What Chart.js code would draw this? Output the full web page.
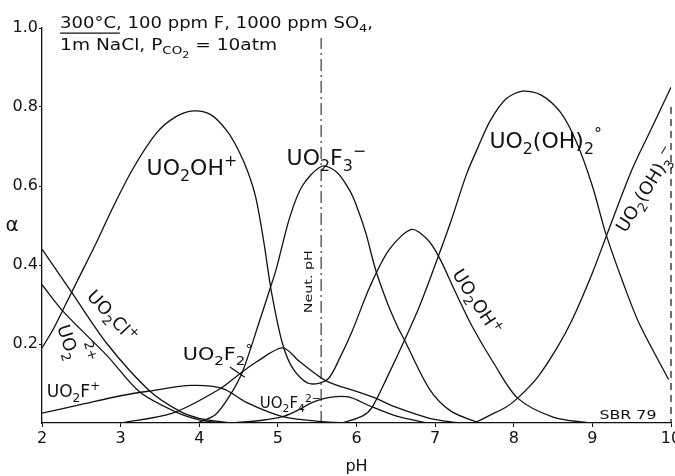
<!DOCTYPE html>
<html>
<head>
<meta charset="utf-8">
<script src="https://cdn.jsdelivr.net/npm/chart.js@4.4.0/dist/chart.umd.min.js"></script>
<style>
  html, body { margin: 0; padding: 0; background: #fff; }
</style>
</head>
<body>
<canvas id="chart" width="675" height="476"></canvas>
<script>
// uranyl species distribution vs pH, 300 C

const xTicks = [2, 3, 4, 5, 6, 7, 8, 9, 10];
const yTicks = [0.2, 0.4, 0.6, 0.8, 1.0];
const neutralPH = 5.55;

const phUO2OH = [2.0, 2.15, 2.3, 2.45, 2.7, 2.9, 3.16, 3.46, 3.7, 3.93, 4.15, 4.35, 4.5, 4.62, 4.72, 4.82, 4.92, 5.06, 5.2, 5.4, 5.63, 5.8, 5.95, 6.17, 6.42, 6.7, 6.9, 7.05, 7.25, 7.47, 7.75, 8.05, 8.5, 8.96];
const aUO2OH = [0.19, 0.24, 0.30, 0.36, 0.46, 0.545, 0.645, 0.735, 0.775, 0.79, 0.78, 0.74, 0.69, 0.635, 0.57, 0.46, 0.33, 0.20, 0.135, 0.10, 0.11, 0.17, 0.235, 0.345, 0.44, 0.49, 0.465, 0.42, 0.335, 0.245, 0.15, 0.063, 0.015, 0];

const phUO2F3 = [3.97, 4.2, 4.39, 4.55, 4.77, 4.9, 4.98, 5.15, 5.31, 5.56, 5.75, 5.91, 6.0, 6.12, 6.24, 6.4, 6.52, 6.61, 6.93, 7.2, 7.56];
const aUO2F3 = [0, 0.02, 0.07, 0.13, 0.26, 0.34, 0.39, 0.52, 0.60, 0.65, 0.635, 0.59, 0.55, 0.48, 0.39, 0.30, 0.245, 0.21, 0.085, 0.03, 0];

const phUO2OH2 = [5.82, 6.08, 6.2, 6.4, 6.6, 6.8, 7.0, 7.2, 7.4, 7.55, 7.7, 7.9, 8.11, 8.35, 8.6, 8.8, 9.0, 9.17, 9.4, 9.6, 9.97];
const aUO2OH2 = [0, 0.018, 0.04, 0.12, 0.205, 0.295, 0.40, 0.51, 0.63, 0.70, 0.765, 0.82, 0.84, 0.83, 0.785, 0.71, 0.60, 0.48, 0.35, 0.25, 0.11];

const phUO2OH3 = [7.5, 7.7, 7.9, 8.05, 8.3, 8.55, 8.74, 9.0, 9.19, 9.5, 9.75, 10];
const aUO2OH3 = [0, 0.02, 0.04, 0.063, 0.115, 0.19, 0.26, 0.38, 0.48, 0.64, 0.745, 0.85];

const phUO2F2 = [3.0, 3.66, 4.26, 4.55, 4.73, 5.06, 5.28, 5.62, 6.0, 6.23, 6.5, 6.93, 7.3];
const aUO2F2 = [0, 0.025, 0.086, 0.13, 0.155, 0.19, 0.155, 0.106, 0.08, 0.064, 0.04, 0.012, 0];

const phUO2F = [2.0, 2.5, 3.0, 3.37, 3.9, 4.3, 4.6, 5.06, 5.6, 6.0];
const aUO2F = [0.025, 0.047, 0.069, 0.081, 0.095, 0.087, 0.052, 0.016, 0.003, 0];

const phUO2Cl = [2.0, 2.38, 2.83, 3.37, 3.75, 4.0, 4.4];
const aUO2Cl = [0.44, 0.33, 0.20, 0.081, 0.03, 0.012, 0];

const phUO2 = [2.0, 2.28, 2.83, 3.24, 3.7, 4.0, 4.3];
const aUO2 = [0.35, 0.28, 0.17, 0.079, 0.028, 0.008, 0];

const phUO2F4 = [4.4, 4.8, 5.06, 5.25, 5.44, 5.66, 5.9, 6.17, 6.5, 6.9];
const aUO2F4 = [0, 0.007, 0.016, 0.032, 0.052, 0.065, 0.066, 0.043, 0.018, 0];

const FONT = "'DejaVu Sans', sans-serif";
const INK = "#111";

function pts(ph, a) {
  return ph.map((x, i) => ({ x: x, y: a[i] }));
}

// text runs: n normal, s subscript, p superscript, ss second-level subscript
const runs = {
  n: { k: 1, dy: 0 },
  s: { k: 0.72, dy: 0.28 },
  p: { k: 0.72, dy: -0.42 },
  ss: { k: 0.6, dy: 0.5 }
};

function drawChem(ctx, parts, x, y, size, angle, width) {
  ctx.save();
  ctx.translate(x, y);
  ctx.rotate((angle || 0) * Math.PI / 180);
  let total = 0;
  parts.forEach(p => {
    ctx.font = (size * runs[p[1]].k) + "px " + FONT;
    total += ctx.measureText(p[0]).width;
  });
  if (width) ctx.scale(width / total, 1);
  ctx.textAlign = "left";
  ctx.textBaseline = "alphabetic";
  ctx.fillStyle = INK;
  let cx = 0;
  parts.forEach(p => {
    const r = runs[p[1]];
    ctx.font = (size * r.k) + "px " + FONT;
    ctx.fillText(p[0], cx, r.dy * size);
    cx += ctx.measureText(p[0]).width;
  });
  ctx.restore();
}

const notes = [
  { parts: [["300°C, 100 ppm F, 1000 ppm SO", "n"], ["4", "s"], [",", "n"]], ph: 2.23, a: 1.0, size: 15, width: 313 },
  { parts: [["1m NaCl, P", "n"], ["CO", "s"], ["2", "ss"], [" = 10atm", "n"]], ph: 2.23, a: 0.944, size: 15, width: 217 },
  { parts: [["UO", "n"], ["2", "s"], ["OH", "n"], ["+", "p"]], ph: 3.33, a: 0.628, size: 22 },
  { parts: [["UO", "n"], ["2", "s"], ["F", "n"], ["3", "s"], ["−", "p"]], ph: 5.11, a: 0.653, size: 22 },
  { parts: [["UO", "n"], ["2", "s"], ["(OH)", "n"], ["2", "s"], ["°", "p"]], ph: 7.69, a: 0.696, size: 22 },
  { parts: [["UO", "n"], ["2", "s"], ["(OH)", "n"], ["3", "s"], ["−", "p"]], ph: 9.42, a: 0.48, size: 18, angle: -58 },
  { parts: [["UO", "n"], ["2", "s"], ["OH", "n"], ["+", "p"]], ph: 7.21, a: 0.377, size: 18, angle: 57 },
  { parts: [["UO", "n"], ["2", "s"], ["Cl", "n"], ["+", "p"]], ph: 2.56, a: 0.319, size: 18, angle: 47 },
  { parts: [["UO", "n"], ["2", "s"]], ph: 2.19, a: 0.243, size: 18, angle: 72 },
  { parts: [["2+", "n"]], ph: 2.53, a: 0.203, size: 13, angle: 72 },
  { parts: [["UO", "n"], ["2", "s"], ["F", "n"], ["+", "p"]], ph: 2.06, a: 0.066, size: 17 },
  { parts: [["UO", "n"], ["2", "s"], ["F", "n"], ["2", "s"], ["°", "p"]], ph: 3.79, a: 0.159, size: 18, width: 70 },
  { parts: [["UO", "n"], ["2", "s"], ["F", "n"], ["4", "s"], ["2−", "p"]], ph: 4.77, a: 0.038, size: 15 },
  { parts: [["SBR 79", "n"]], ph: 9.09, a: 0.01, size: 13, width: 57 },
  { parts: [["Neut. pH", "n"]], ph: 5.44, a: 0.278, size: 11, angle: -90, width: 63 }
];

const notesPlugin = {
  id: "notes",
  afterDatasetsDraw(chart) {
    const ctx = chart.ctx;
    const xs = chart.scales.x;
    const ys = chart.scales.y;
    const area = chart.chartArea;

    notes.forEach(n => {
      drawChem(ctx, n.parts, xs.getPixelForValue(n.ph), ys.getPixelForValue(n.a), n.size, n.angle, n.width);
    });

    ctx.save();
    ctx.strokeStyle = INK;
    ctx.lineWidth = 1.2;
    // underline under 300°C
    ctx.beginPath();
    ctx.moveTo(xs.getPixelForValue(2.23), ys.getPixelForValue(0.987));
    ctx.lineTo(xs.getPixelForValue(2.99), ys.getPixelForValue(0.987));
    // leader for UO2F2
    ctx.moveTo(xs.getPixelForValue(4.39), ys.getPixelForValue(0.142));
    ctx.lineTo(xs.getPixelForValue(4.58), ys.getPixelForValue(0.116));
    ctx.stroke();

    // right frame, dashed
    ctx.setLineDash([7, 5]);
    ctx.beginPath();
    ctx.moveTo(area.right, ys.getPixelForValue(0.8));
    ctx.lineTo(area.right, area.bottom);
    ctx.stroke();
    ctx.restore();

    ctx.save();
    ctx.fillStyle = INK;
    ctx.textAlign = "center";
    ctx.textBaseline = "middle";
    ctx.font = "20px " + FONT;
    ctx.fillText("α", area.left - 30, ys.getPixelForValue(0.5));
    ctx.font = "16px " + FONT;
    ctx.fillText("pH", (area.left + area.right) / 2, area.bottom + 44);
    ctx.restore();
  }
};

function species(ph, a) {
  return { data: pts(ph, a), borderColor: INK, borderWidth: 1.3, tension: 0.3, pointRadius: 0, fill: false };
}

const ctx = document.getElementById("chart").getContext("2d");
const myChart = new Chart(ctx, {
  type: "line",
  data: {
    datasets: [
      species(phUO2OH, aUO2OH),
      species(phUO2F3, aUO2F3),
      species(phUO2OH2, aUO2OH2),
      species(phUO2OH3, aUO2OH3),
      species(phUO2F2, aUO2F2),
      species(phUO2F, aUO2F),
      species(phUO2Cl, aUO2Cl),
      species(phUO2, aUO2),
      species(phUO2F4, aUO2F4),
      {
        data: [{ x: neutralPH, y: 0 }, { x: neutralPH, y: 0.975 }],
        borderColor: INK,
        borderWidth: 1,
        borderDash: [12, 4, 2, 4],
        pointRadius: 0,
        fill: false
      }
    ]
  },
  options: {
    responsive: false,
    animation: false,
    layout: { padding: { top: 28, right: 4, bottom: 0, left: 0 } },
    plugins: {
      legend: { display: false },
      tooltip: { enabled: false }
    },
    scales: {
      x: {
        type: "linear",
        min: 2,
        max: 10,
        afterBuildTicks: s => { s.ticks = xTicks.map(v => ({ value: v })); },
        ticks: { font: { family: FONT, size: 16 }, color: INK, padding: 2, maxRotation: 0, autoSkip: false },
        grid: { display: true, drawOnChartArea: false, drawTicks: true, tickLength: 4, color: INK },
        border: { display: true, color: INK, width: 1.3 },
        afterFit: s => { s.height = 53; s.paddingLeft = 0; s.paddingRight = 0; }
      },
      y: {
        min: 0,
        max: 1,
        afterBuildTicks: s => { s.ticks = yTicks.map(v => ({ value: v })); },
        ticks: { font: { family: FONT, size: 16 }, color: INK, padding: 1, callback: v => v.toFixed(1) },
        grid: { display: true, drawOnChartArea: false, drawTicks: true, tickLength: 3, color: INK },
        border: { display: true, color: INK, width: 1.3 },
        afterFit: s => { s.width = 42; }
      }
    }
  },
  plugins: [notesPlugin]
});
</script>
</body>
</html>
